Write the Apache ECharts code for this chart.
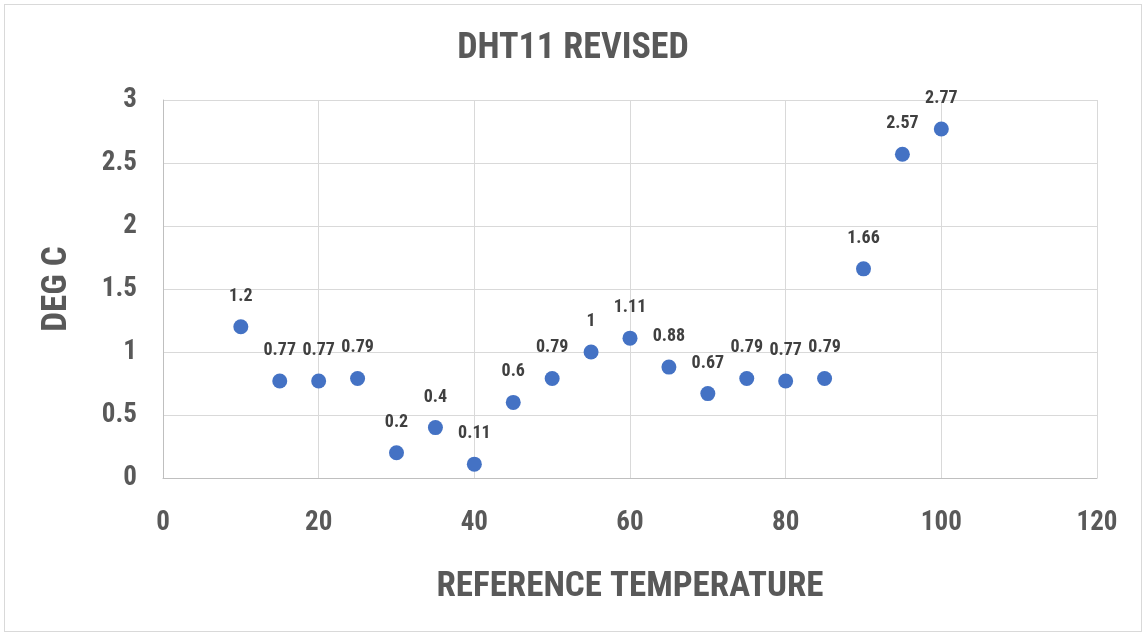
<!DOCTYPE html>
<html style="height: 100%">
<head>
<meta charset="utf-8">
<script src="https://cdn.jsdelivr.net/npm/echarts/dist/echarts.min.js"></script>
</head>
<body style="height: 100%; margin: 0; background: #fff">
<div id="container" style="position:absolute; left:4px; top:4px; width:1136px; height:626px; border:1px solid #d9d9d9"></div>
<script>
var refTemp = [10, 15, 20, 25, 30, 35, 40, 45, 50, 55, 60, 65, 70, 75, 80, 85, 90, 95, 100];
var degC = [1.2, 0.77, 0.77, 0.79, 0.2, 0.4, 0.11, 0.6, 0.79, 1, 1.11, 0.88, 0.67, 0.79, 0.77, 0.79, 1.66, 2.57, 2.77];

var font = '"Liberation Sans Narrow", "Roboto Condensed", Roboto, sans-serif';
var grey = '#595959';

var chart = echarts.init(document.getElementById('container'));
chart.setOption({
    title: {
        text: 'DHT11 REVISED',
        left: 'center',
        top: 21,
        textStyle: { fontFamily: font, fontSize: 36, fontWeight: 'bold', color: grey }
    },
    grid: { left: 158, right: 44, top: 95, bottom: 153 },
    xAxis: {
        type: 'value',
        min: 0, max: 120, interval: 20,
        name: 'REFERENCE TEMPERATURE',
        nameLocation: 'middle',
        nameGap: 92,
        nameTextStyle: { fontFamily: font, fontSize: 35, fontWeight: 'bold', color: grey },
        axisLine: { lineStyle: { color: '#bfbfbf' } },
        axisTick: { show: false },
        axisLabel: { fontFamily: font, fontSize: 27, fontWeight: 'bold', color: grey, margin: 32 },
        splitLine: { lineStyle: { color: '#d9d9d9' } }
    },
    yAxis: {
        type: 'value',
        min: 0, max: 3, interval: 0.5,
        name: 'DEG C',
        nameLocation: 'middle',
        nameGap: 88,
        nameTextStyle: { fontFamily: font, fontSize: 35, fontWeight: 'bold', color: grey },
        axisLine: { show: true, lineStyle: { color: '#bfbfbf' } },
        axisTick: { show: false },
        axisLabel: { fontFamily: font, fontSize: 27, fontWeight: 'bold', color: grey, margin: 26 },
        splitLine: { lineStyle: { color: '#d9d9d9' } }
    },
    series: [{
        type: 'scatter',
        symbolSize: 15,
        itemStyle: { color: '#4472c4', opacity: 1 },
        data: refTemp.map(function (x, i) { return [x, degC[i]]; }),
        label: {
            show: true,
            position: 'top',
            distance: 14,
            formatter: function (p) { return p.value[1]; },
            fontFamily: font, fontSize: 18, fontWeight: 'bold', color: '#404040'
        }
    }]
});
</script>
</body>
</html>
